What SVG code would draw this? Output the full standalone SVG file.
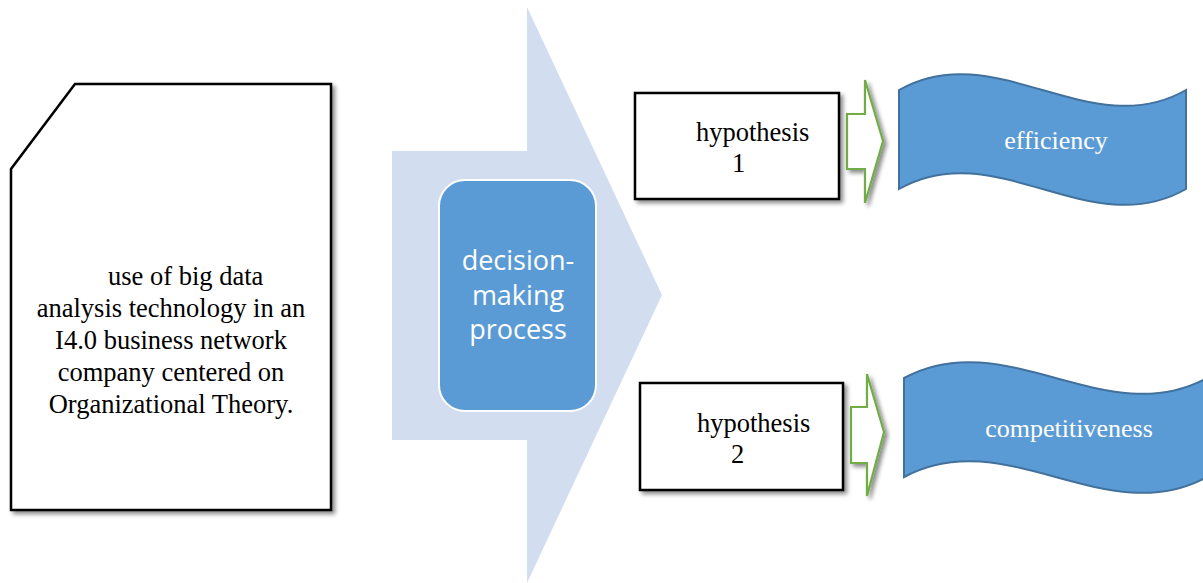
<svg xmlns="http://www.w3.org/2000/svg" width="1203" height="583" viewBox="0 0 1203 583">
<defs>
<filter id="sh" x="-10%" y="-10%" width="130%" height="130%">
<feDropShadow dx="3" dy="3" stdDeviation="2" flood-color="#000" flood-opacity="0.45"/>
</filter>
<style>
.doc{fill:#fff;stroke:#000;stroke-width:2.5;filter:url(#sh)}
.box{fill:#fff;stroke:#000;stroke-width:2.5;filter:url(#sh)}
.serif{font-family:"Liberation Serif","Times New Roman",serif;fill:#000;font-size:26.5px}
.wave{fill:#5B9BD5;stroke:#41719C;stroke-width:2}
.wtext{font-family:"Liberation Serif","Times New Roman",serif;fill:#fff;font-size:26px;text-anchor:middle}
.garrow{fill:#fff;stroke:#70AD47;stroke-width:2.2;filter:url(#sh)}
.big{fill:#D2DEEF}
.proc{fill:#5B9BD5;stroke:#fff;stroke-width:2}
.ptext{font-family:"Open Sans","Noto Sans",sans-serif;fill:#fff;font-size:27px;text-anchor:middle}
</style>
</defs>
<g id="main-arrow">
<polygon class="big" points="392,151 527,151 527,7 662,295 527,583 527,440 392,440"/>
</g>
<g id="document">
<polygon class="doc" points="75,84 331,84 331,510 11,510 11,169"/>
<text class="serif" x="108" y="285">use of big data</text>
<text class="serif" x="171" y="317" text-anchor="middle">analysis technology in an</text>
<text class="serif" x="171" y="349" text-anchor="middle">I4.0 business network</text>
<text class="serif" x="171" y="381" text-anchor="middle">company centered on</text>
<text class="serif" x="171" y="413" text-anchor="middle">Organizational Theory.</text>
</g>
<g id="decision">
<rect class="proc" x="439" y="180" width="157" height="231" rx="26" ry="26"/>
<text class="ptext" x="518" y="270">decision-</text>
<text class="ptext" x="518" y="305">making</text>
<text class="ptext" x="518" y="339">process</text>
</g>
<g id="hypothesis1">
<rect class="box" x="635" y="93" width="204" height="106"/>
<text class="serif" x="696" y="141">hypothesis</text>
<text class="serif" x="732" y="172">1</text>
</g>
<g id="hypothesis2">
<rect class="box" x="640" y="383" width="203" height="107"/>
<text class="serif" x="697" y="432">hypothesis</text>
<text class="serif" x="731" y="463">2</text>
</g>
<g id="connectors">
<polygon class="garrow" points="847,114 865,114 865,80 883,141 865,203 865,169 847,169"/>
<polygon class="garrow" points="851,407 867,407 867,374 884,432 867,496 867,463 851,463"/>
</g>
<g id="efficiency">
<path class="wave" d="M899,90 C994.7,35 1090.3,145 1186,90 L1186,189 C1090.3,244 994.7,134 899,189 Z"/>
<text class="wtext" x="1056" y="149">efficiency</text>
</g>
<g id="competitiveness">
<path class="wave" d="M904,378 C1005,323 1106,433 1207,378 L1207,477 C1106,532 1005,422 904,477 Z"/>
<text class="wtext" x="1069" y="437">competitiveness</text>
</g>
</svg>
